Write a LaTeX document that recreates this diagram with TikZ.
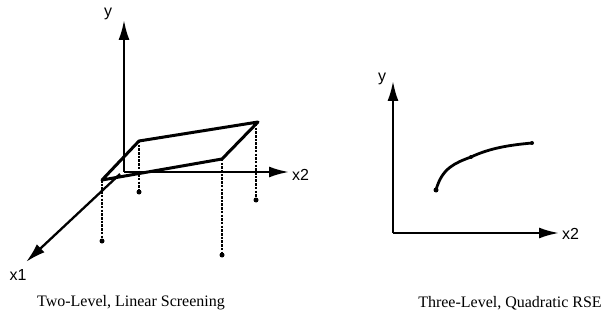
\documentclass[tikz,border=0pt]{standalone}
\usepackage{fontspec}
\setmainfont{Liberation Serif}
\newfontfamily\axfont{Liberation Sans}
\usetikzlibrary{arrows.meta}
\begin{document}
\begin{tikzpicture}[x=1pt,y=-1pt,
  axis/.style={line width=2.3pt,-{Latex[length=20pt,width=11pt]}},
  plane/.style={line width=3pt,line join=round},
  drop/.style={line width=1.9pt,dash pattern=on 2.5pt off 1.2pt},
  pt/.style={circle,fill=black,inner sep=0pt,minimum size=5pt},
  axlabel/.style={font=\axfont\fontsize{16}{18}\selectfont,inner sep=0pt},
  caption/.style={font=\fontsize{16}{19}\selectfont,inner sep=0pt}]
\useasboundingbox (0,0) rectangle (607,323);
% left plot
\coordinate (O) at (124,172);
\coordinate (ytip) at (124,20);
\coordinate (x2tip) at (289,172);
\coordinate (x1s) at (120,174);
\coordinate (x1tip) at (26,262);
\draw[axis] (O) -- (ytip);
\draw[axis] (O) -- (x2tip);
\draw[axis] (x1s) -- (x1tip);
\node[axlabel] (ly) at (108,14) {y};
\node[axlabel,anchor=west] (lx2) at (292,175) {x2};
\node[axlabel] (lx1) at (18,275) {x1};
\coordinate (A) at (102,180);
\coordinate (B) at (139,141);
\coordinate (C) at (258,122);
\coordinate (D) at (222,159);
\draw[plane] (A) -- (B) -- (C) -- (D) -- cycle;
\node[pt] (a1) at (102,241) {};
\node[pt] (b1) at (139,192) {};
\node[pt] (d1) at (222,255) {};
\node[pt] (c1) at (256,200) {};
\draw[drop] (A) -- (a1);
\draw[drop] (B) -- (b1);
\draw[drop] (D) -- (d1);
\draw[drop] (256,124) -- (c1);
\node[caption] (cap1) at (131,303) {Two-Level, Linear Screening};
% right plot
\coordinate (O2) at (393,233);
\draw[axis] (O2) -- (393,81);
\draw[axis] (O2) -- (559,233);
\node[axlabel] (ly2) at (382,79) {y};
\node[axlabel,anchor=west] (lx2b) at (562,234) {x2};
\node[pt] (p1) at (436,190) {};
\node[pt,minimum size=4pt] (p2) at (471,157) {};
\node[pt,minimum size=4pt] (p3) at (532,143) {};
\draw[line width=2.8pt] (p1.center) .. controls (442,168) and (455,163) .. (p2.center)
  .. controls (490,148) and (510,145) .. (p3.center);
\node[caption] (cap2) at (510,303) {Three-Level, Quadratic RSE};
\end{tikzpicture}
\end{document}
